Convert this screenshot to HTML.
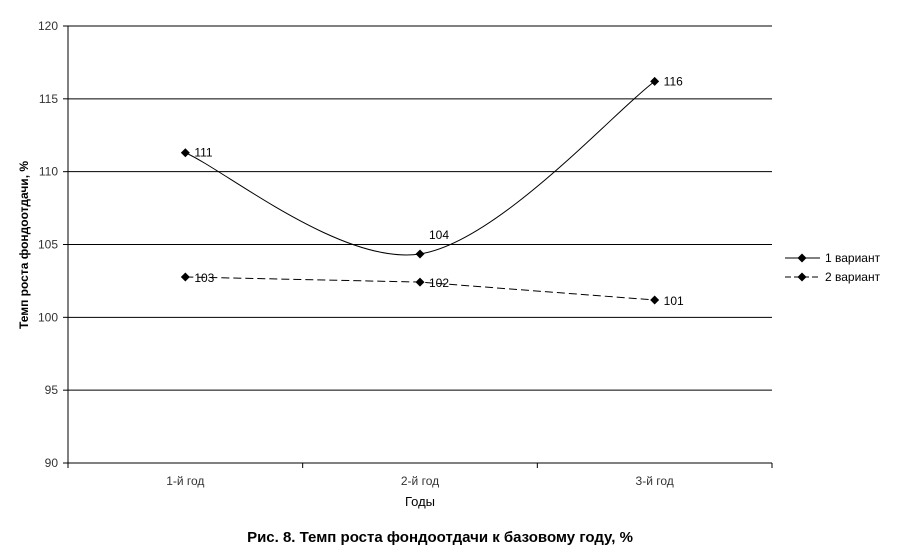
<!DOCTYPE html>
<html><head><meta charset="utf-8"><style>
body{margin:0;background:#fff;}
svg{display:block;font-family:"Liberation Sans",sans-serif;}
</style></head><body>
<svg id="chart" width="898" height="557"></svg>
<script>
const categories=["1-й год","2-й год","3-й год"];
const series1=[111.3,104.35,116.2];
const series2=[102.77,102.42,101.19];
const labels1=["111","104","116"];
const labels2=["103","102","101"];
const yTicks=[90,95,100,105,110,115,120];
const seriesNames=["1 вариант","2 вариант"];

const NS="http://www.w3.org/2000/svg";
const svg=document.getElementById('chart');
const L=68,R=772,T=26,B=463,yMin=90,yMax=120;
const y=v=>B-(v-yMin)/(yMax-yMin)*(B-T);
const bw=(R-L)/categories.length;
const x=i=>L+bw*(i+0.5);
function mk(t,a,txt){const e=document.createElementNS(NS,t);for(const k in a)e.setAttribute(k,a[k]);if(txt!==undefined)e.textContent=txt;svg.appendChild(e);return e;}

yTicks.forEach(v=>{
  if(v>yMin){const g=mk('line',{x1:L,x2:R,y1:y(v),y2:y(v),stroke:'#000','stroke-width':1});
  
  }
  const tk=mk('line',{x1:L-5,x2:L,y1:y(v),y2:y(v),stroke:'#000'});
  
  
  const t=mk('text',{x:L-10,y:y(v)+4,'text-anchor':'end','font-size':12,fill:'#333'},v);
  
  
});
const ya=mk('line',{x1:L,x2:L,y1:T,y2:B,stroke:'#000'});


const xa=mk('line',{x1:L,x2:R,y1:B,y2:B,stroke:'#000'});


for(let i=0;i<=categories.length;i++){
  const tk=mk('line',{x1:L+bw*i,x2:L+bw*i,y1:B,y2:B+5,stroke:'#000'});
  
  
}
categories.forEach((c,i)=>{
  const t=mk('text',{x:x(i),y:B+22,'text-anchor':'middle','font-size':12,fill:'#333'},c);
  
  
});

const p1=series1.map((v,i)=>[x(i),y(v)]);
let d=`M${p1[0][0]},${p1[0][1]}`;
for(let i=0;i<p1.length-1;i++){
  const p0=p1[Math.max(i-1,0)],a=p1[i],b=p1[i+1],p3=p1[Math.min(i+2,p1.length-1)];
  const c1=[a[0]+(b[0]-p0[0])/6,a[1]+(b[1]-p0[1])/6];
  const c2=[b[0]-(p3[0]-a[0])/6,b[1]-(p3[1]-a[1])/6];
  d+=` C${c1[0]},${c1[1]} ${c2[0]},${c2[1]} ${b[0]},${b[1]}`;
}
const l1=mk('path',{d:d,fill:'none',stroke:'#000','stroke-width':1});


const l2=mk('polyline',{points:series2.map((v,i)=>x(i)+','+y(v)).join(' '),fill:'none',stroke:'#000','stroke-dasharray':'8,4'});



function diamond(cx,cy){return `${cx},${cy-4.5} ${cx+4.5},${cy} ${cx},${cy+4.5} ${cx-4.5},${cy}`;}
series1.forEach((v,i)=>{
  const m=mk('polygon',{points:diamond(x(i),y(v)),fill:'#000'});
  
  
  const dy=i===1?-15:4;
  const t=mk('text',{x:x(i)+9,y:y(v)+dy,'font-size':12,fill:'#000'},labels1[i]);
  
  
});
series2.forEach((v,i)=>{
  const m=mk('polygon',{points:diamond(x(i),y(v)),fill:'#000'});
  
  
  const t=mk('text',{x:x(i)+9,y:y(v)+5,'font-size':12,fill:'#000'},labels2[i]);
  
  
});

seriesNames.forEach((n,i)=>{
  const ly=258+i*19;
  const ln=mk('line',{x1:785,x2:820,y1:ly,y2:ly,stroke:'#000','stroke-dasharray':i?'6,3':'none'});
  
  
  const m=mk('polygon',{points:diamond(802,ly),fill:'#000'});
  
  
  const t=mk('text',{x:825,y:ly+4,'font-size':12,fill:'#000'},n);
  
  
});

const yt=mk('text',{x:0,y:0,'text-anchor':'middle','font-size':12,'font-weight':'bold',fill:'#000',transform:'translate(28,245) rotate(-90)'},'Темп роста фондоотдачи, %');


const xt=mk('text',{x:420,y:506,'text-anchor':'middle','font-size':13,fill:'#000'},'Годы');


const cap=mk('text',{x:440,y:542,'text-anchor':'middle','font-size':15,'font-weight':'bold',fill:'#000'},'Рис. 8. Темп роста фондоотдачи к базовому году, %');


</script>
</body></html>
